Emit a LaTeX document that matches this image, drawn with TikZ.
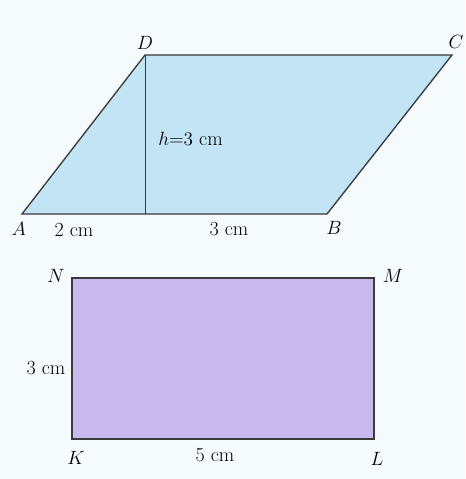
\documentclass[tikz,border=0pt]{standalone}
\definecolor{bgc}{HTML}{F5FAFC}
\definecolor{parfill}{HTML}{C3E4F5}
\definecolor{recfill}{HTML}{C7B8EE}
\definecolor{edge}{HTML}{3A3A3A}
\begin{document}
\begin{tikzpicture}[x=0.75pt,y=-0.75pt,
  shape edge/.style={draw=edge,line width=1pt,line join=miter},
  lbl/.style={inner sep=0pt,font=\fontsize{15}{18}\selectfont}]
\fill[bgc] (0,0) rectangle (465,479);
\useasboundingbox (0,0) rectangle (465,479);
% parallelogram
\coordinate (A) at (22,214);
\coordinate (B) at (327,214);
\coordinate (C) at (452,55);
\coordinate (D) at (145,55);
\coordinate (H) at (145,214);
\filldraw[fill=parfill,shape edge] (A) -- (B) -- (C) -- (D) -- cycle;
\draw[edge,line width=0.7pt] (D) -- (H);
\node[lbl] (lD) at (145,43) {$D$};
\node[lbl] (lC) at (456,42) {$C$};
\node[lbl] (lA) at (19,229) {$A$};
\node[lbl] (lB) at (334,228) {$B$};
\node[lbl] (l2) at (74,230) {2 cm};
\node[lbl] (l3) at (229,229) {3 cm};
\node[lbl,anchor=west] (lh) at (158,139) {$h{=}3$ cm};
% rectangle
\coordinate (K) at (72,439);
\coordinate (L) at (374,439);
\coordinate (M) at (374,278);
\coordinate (N) at (72,278);
\filldraw[fill=recfill,shape edge] (K) -- (L) -- (M) -- (N) -- cycle;
\node[lbl] (lN) at (56,276) {$N$};
\node[lbl] (lM) at (393,276) {$M$};
\node[lbl] (lK) at (76,458) {$K$};
\node[lbl] (lL) at (377,459) {$L$};
\node[lbl] (l3b) at (46,368) {3 cm};
\node[lbl] (l5) at (215,455) {5 cm};
\end{tikzpicture}
\end{document}
